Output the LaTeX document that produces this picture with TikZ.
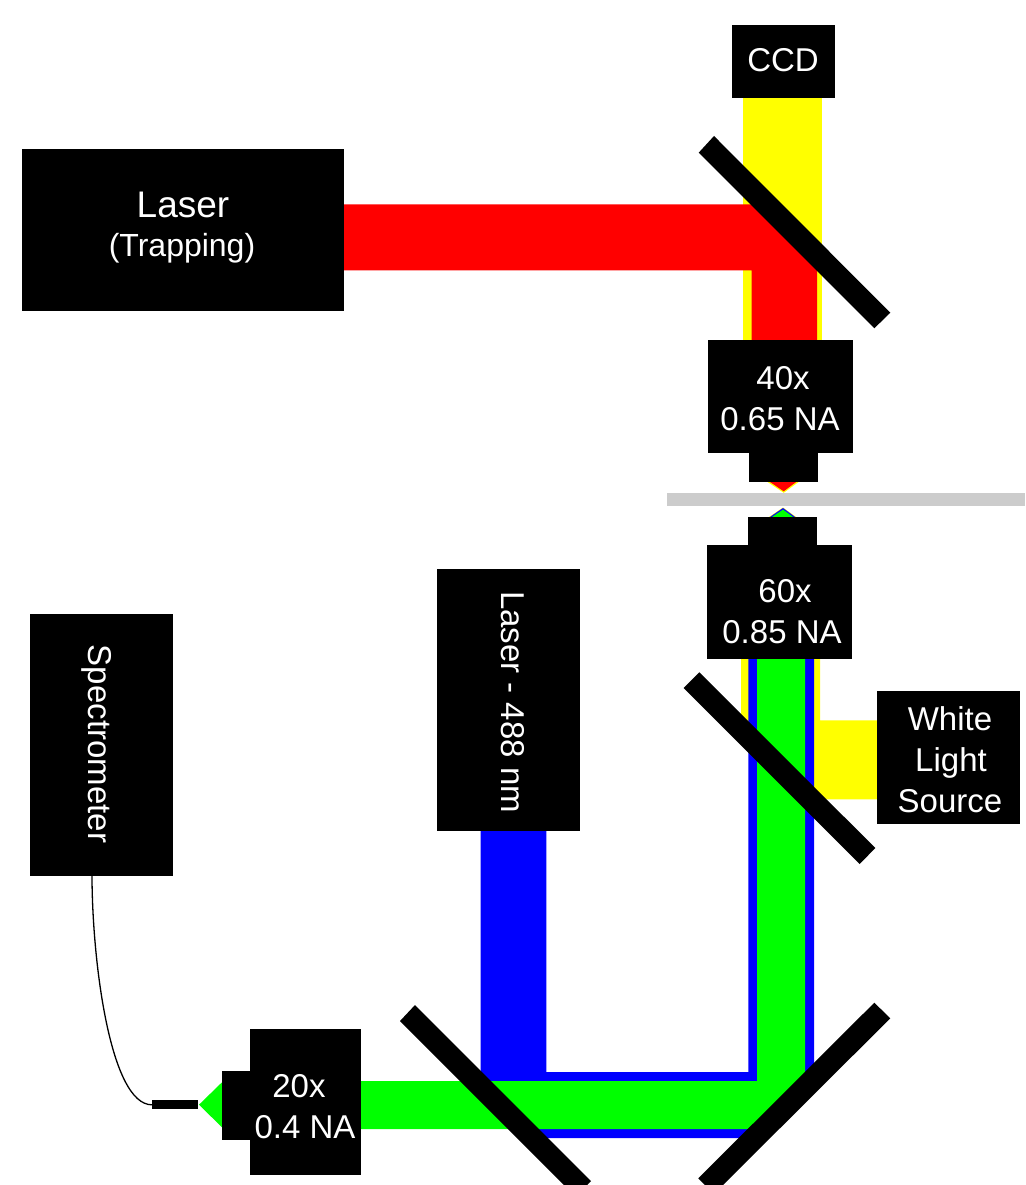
\documentclass[tikz,border=0pt]{standalone}
\usepackage{fontspec}
\setmainfont{Liberation Sans}
\definecolor{mgrey}{HTML}{CCCCCC}
\definecolor{pureY}{RGB}{255,255,0}
\definecolor{pureR}{RGB}{255,0,0}
\definecolor{pureG}{RGB}{0,255,0}
\definecolor{pureB}{RGB}{0,0,255}
\tikzset{
  blk/.style={fill=black,draw=none,inner sep=0pt,outer sep=0pt},
  lbl/.style={text=white,anchor=base,inner sep=0pt,font=\fontsize{33}{33}\selectfont},
  lblside/.style={lbl,rotate=-90},
  mirror/.style={fill=black},
  beamY/.style={fill=pureY},
  beamR/.style={fill=pureR},
  beamG/.style={fill=pureG},
  beamB/.style={fill=pureB},
  fiber/.style={draw=black,line width=1.3pt}
}
\newcommand{\blkbox}[5]{\node[blk,minimum width=#4-#2,minimum height=#5-#3] (#1) at ({(#2+#4)/2},{(#3+#5)/2}) {};}
\begin{document}
\begin{tikzpicture}[x=1pt,y=-1pt]
\useasboundingbox (0,0) rectangle (1025,1185);
\clip (0,0) rectangle (1025,1185);
% top beams
\fill[beamY] (743,98) rectangle (822,340);
\fill[beamR] (344,204.3) -- (752,204.3) -- (817,269) -- (817,340) -- (751.7,340) -- (751.7,270.3) -- (344,270.3) -- cycle;
\fill[beamY] (766,481) -- (800,481) -- (783.7,492.8) -- cycle;
\fill[beamR] (768.5,481) -- (797.5,481) -- (783.7,491.3) -- cycle;
% lower beams
\fill[beamY] (741,659) -- (820,659) -- (820,720.3) -- (877,720.3) -- (877,799.3) -- (815,799.3) -- (741,725) -- cycle;
\fill[beamB] (480.7,831) -- (546.3,831) -- (546.3,1072) -- (748.3,1072) -- (748.3,659) -- (814,659) -- (814,1075) -- (750,1138) -- (535,1138) -- (480.7,1085) -- cycle;
\fill[beamG] (361,1081) -- (757,1081) -- (757,659) -- (805,659) -- (805,1085) -- (760,1129) -- (361,1129) -- cycle;
\fill[beamY] (767.5,518) -- (797.5,518) -- (783,507.5) -- cycle;
\fill[beamB] (768.5,518) -- (796.5,518) -- (783,508) -- cycle;
\fill[beamG] (770.5,518) -- (794.5,518) -- (783,509.6) -- cycle;
\fill[beamG] (199,1104.7) -- (223,1081.3) -- (223,1128.3) -- cycle;
% sample slide
\fill[mgrey] (666.5,493.3) rectangle (1025,506.3);
% boxes
\blkbox{laser}{22}{149}{344}{311}
\blkbox{ccd}{732}{25}{835}{98}
\blkbox{objA}{708}{340}{853}{453}
\blkbox{nozA}{749.3}{452}{818}{481.7}
\blkbox{nozB}{748.3}{517.3}{817.3}{546}
\blkbox{objB}{706.7}{545.3}{852}{659}
\blkbox{wls}{877}{691.3}{1020}{824}
\blkbox{bluelaser}{437}{569}{580}{831}
\blkbox{spec}{30}{614}{173}{876}
\blkbox{objC}{250.3}{1029}{360.7}{1175}
\blkbox{nozC}{222.3}{1070.7}{251}{1140}
\blkbox{fibertip}{152}{1100.3}{198}{1109.3}
% mirrors
\fill[mirror] (698.7,152.7) -- (714,136) -- (890.3,312.7) -- (874.3,328.3) -- cycle;
\fill[mirror] (683.7,688) -- (699.3,672.3) -- (875.3,848) -- (859.7,864) -- cycle;
\fill[mirror] (400,1021) -- (415,1005) -- (591,1181) -- (576,1197) -- cycle;
\fill[mirror] (874.3,1002.7) -- (890.3,1018.3) -- (714,1194) -- (698.3,1178.3) -- cycle;
% fibre
\coordinate (specout) at (92,875);
\draw[fiber] (specout) .. controls (92,960) and (110,1105) .. (fibertip.west);
% labels
\node[lbl,font=\fontsize{37}{37}\selectfont] (t1) at (183,217) {Laser};
\node[lbl,font=\fontsize{32}{32}\selectfont] (t2) at (182,256) {(Trapping)};
\node[lbl] (t3) at (783,72) {CCD};
\node[lbl] (t4) at (783,389) {40x};
\node[lbl] (t5) at (780,430) {0.65 NA};
\node[lbl] (t6) at (785,602) {60x};
\node[lbl] (t7) at (782,643) {0.85 NA};
\node[lbl] (t8) at (950,730) {White};
\node[lbl] (t9) at (951,771) {Light};
\node[lbl] (t10) at (950,812) {Source};
\node[lbl] (t11) at (299,1097) {20x};
\node[lbl] (t12) at (305,1138) {0.4 NA};
\node[lblside] (t13) at (88,744) {Spectrometer};
\node[lblside] (t14) at (501,702) {Laser - 488 nm};
\end{tikzpicture}
\end{document}
